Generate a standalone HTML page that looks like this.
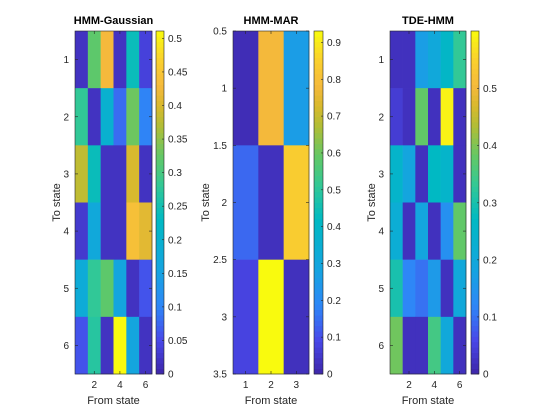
<!DOCTYPE html>
<html><head><meta charset="utf-8"><style>
body{margin:0;background:#fff}
svg{display:block;font-family:"Liberation Sans",sans-serif}
</style></head><body>
<svg id="fig" width="560" height="420" viewBox="0 0 560 420"></svg>
<script>
const gaussValues=[
[0.02,0.32,0.43,0.02,0.24,0.04],
[0.28,0.02,0.20,0.08,0.33,0.10],
[0.38,0.24,0.02,0.02,0.40,0.02],
[0.03,0.17,0.02,0.02,0.44,0.41],
[0.18,0.28,0.32,0.16,0.02,0.06],
[0.06,0.27,0.02,0.51,0.16,0.02]];
const marValues=[
[0.02,0.78,0.26],
[0.14,0.03,0.84],
[0.08,0.93,0.03]];
const tdeValues=[
[0.02,0.02,0.17,0.20,0.26,0.33],
[0.04,0.02,0.38,0.02,0.59,0.02],
[0.25,0.19,0.02,0.27,0.25,0.02],
[0.22,0.02,0.19,0.02,0.14,0.38],
[0.30,0.12,0.10,0.16,0.02,0.20],
[0.39,0.02,0.02,0.35,0.20,0.02]];
const gaussCbTicks=[0,0.05,0.1,0.15,0.2,0.25,0.3,0.35,0.4,0.45,0.5];
const marCbTicks=[0,0.1,0.2,0.3,0.4,0.5,0.6,0.7,0.8,0.9];
const tdeCbTicks=[0,0.1,0.2,0.3,0.4,0.5];
const gaussYTicks=[1,2,3,4,5,6], gaussXTicks=[2,4,6];
const marYTicks=[0.5,1,1.5,2,2.5,3,3.5], marXTicks=[1,2,3];
const titles=["HMM-Gaussian","HMM-MAR","TDE-HMM"];

const keys=[[0,62,38,168],[0.1,72,72,233],[0.2,46,135,247],[0.3,22,163,225],[0.45,0,185,195],[0.55,50,200,150],[0.63,95,200,105],[0.72,175,190,55],[0.78,215,185,45],[0.84,245,185,60],[0.92,250,210,45],[1,249,251,14]];
function parula(t){t=Math.max(0,Math.min(1,t));
 for(let i=1;i<keys.length;i++){if(t<=keys[i][0]){const a=keys[i-1],b=keys[i],f=(t-a[0])/(b[0]-a[0]);
  return `rgb(${[1,2,3].map(k=>Math.round(a[k]+f*(b[k]-a[k]))).join(',')})`;}}
 return 'rgb(249,251,14)';}
const svg=document.getElementById('fig');const NS='http://www.w3.org/2000/svg';
function el(tag,attrs,parent){const e=document.createElementNS(NS,tag);for(const k in attrs)e.setAttribute(k,attrs[k]);(parent||svg).appendChild(e);return e;}
function txt(s,x,y,attrs){const t=el('text',Object.assign({x:x,y:y,'font-size':10,fill:'#262626'},attrs||{}));t.textContent=s;return t;}

function panel(idx,vals,ax,cb,vmax,cbTicks,xTicks,yTicks,yRange){
 const n=vals.length,m=vals[0].length;
 const g=el('g',{});
 
 
 const xS=v=>ax.x0+(v-0.5)/m*(ax.x1-ax.x0);
 const yS=v=>ax.y0+(v-yRange[0])/(yRange[1]-yRange[0])*(ax.y1-ax.y0);
 for(let r=0;r<n;r++)for(let c=0;c<m;c++){
  const x0=xS(c+0.5),x1=xS(c+1.5),y0=yS(r+0.5),y1=yS(r+1.5);
  const rc=el('rect',{x:x0,y:y0,width:x1-x0+0.3,height:y1-y0+0.3,fill:parula(vals[r][c]/vmax)},g);
  
  
 }
 el('rect',{x:ax.x0,y:ax.y0,width:ax.x1-ax.x0,height:ax.y1-ax.y0,fill:'none',stroke:'#262626','stroke-width':0.6},g);
 xTicks.forEach(v=>{const x=xS(v);
  el('line',{x1:x,x2:x,y1:ax.y1,y2:ax.y1-3,stroke:'#262626','stroke-width':0.6},g);
  el('line',{x1:x,x2:x,y1:ax.y0,y2:ax.y0+3,stroke:'#262626','stroke-width':0.6},g);
  const t=txt(String(v),x,ax.y1+14,{'text-anchor':'middle'});
  });
 yTicks.forEach(v=>{const y=yS(v);
  el('line',{x1:ax.x0,x2:ax.x0+3,y1:y,y2:y,stroke:'#262626','stroke-width':0.6},g);
  el('line',{x1:ax.x1,x2:ax.x1-3,y1:y,y2:y,stroke:'#262626','stroke-width':0.6},g);
  const t=txt(String(v),ax.x0-6,y+3.5,{'text-anchor':'end'});
  });
 const tt=txt(titles[idx],(ax.x0+ax.x1)/2,ax.y0-7,{'text-anchor':'middle','font-weight':'bold','font-size':11,fill:'#000'});
 
 const xl=txt('From state',(ax.x0+ax.x1)/2,ax.y1+30,{'text-anchor':'middle','font-size':11});
 
 const yx=ax.x0-(yRange[0]===0.5&&m===3?24:15);
 const yl=txt('To state',yx,(ax.y0+ax.y1)/2,{'text-anchor':'middle','font-size':11,transform:`rotate(-90 ${yx} ${(ax.y0+ax.y1)/2})`});
 
 const cg=el('g',{},g);
 
 const N=64;for(let i=0;i<N;i++){const y0=ax.y1-(i+1)/N*(ax.y1-ax.y0);
  el('rect',{x:cb.x0,y:y0,width:cb.x1-cb.x0,height:(ax.y1-ax.y0)/N+0.4,fill:parula((i+0.5)/N)},cg);}
 el('rect',{x:cb.x0,y:ax.y0,width:cb.x1-cb.x0,height:ax.y1-ax.y0,fill:'none',stroke:'#262626','stroke-width':0.6},cg);
 cbTicks.forEach(v=>{const y=ax.y1-v/vmax*(ax.y1-ax.y0);
  el('line',{x1:cb.x1,x2:cb.x1-2,y1:y,y2:y,stroke:'#262626','stroke-width':0.6},cg);
  const t=txt(String(v),cb.x1+4,y+3.5,{});
  });
}
panel(0,gaussValues,{x0:75,x1:152,y0:31,y1:374},{x0:156,x1:164},0.511,gaussCbTicks,gaussXTicks,gaussYTicks,[0.5,6.5]);
panel(1,marValues,{x0:233,x1:309,y0:31,y1:374},{x0:314,x1:323},0.931,marCbTicks,marXTicks,marYTicks,[0.5,3.5]);
panel(2,tdeValues,{x0:390,x1:466,y0:31,y1:374},{x0:471,x1:479},0.601,tdeCbTicks,gaussXTicks,gaussYTicks,[0.5,6.5]);
</script>
</body></html>
